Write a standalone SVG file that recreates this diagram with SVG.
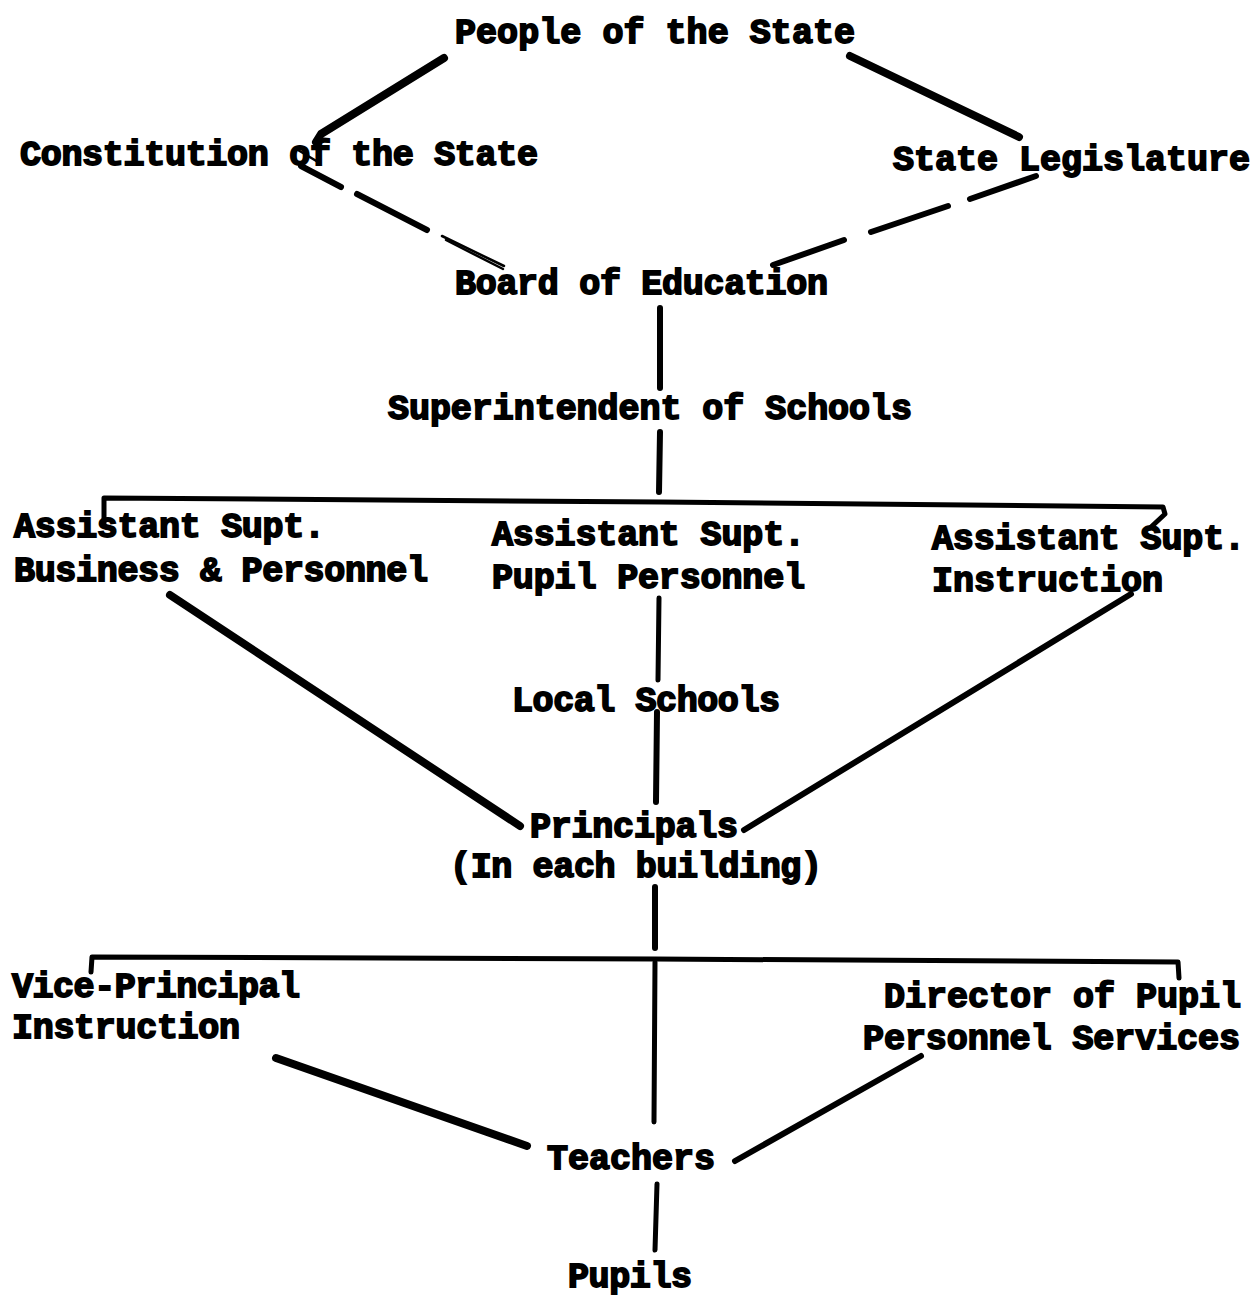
<svg xmlns="http://www.w3.org/2000/svg" width="1257" height="1298" viewBox="0 0 1257 1298">
<style>
.t{font-family:"Liberation Mono","Courier New",monospace;font-weight:bold;font-size:35px;fill:#000;stroke:#000;stroke-width:1.8px;lengthAdjust:spacing}
.c{stroke:#000;fill:none;stroke-linecap:round;stroke-linejoin:round}
.w8{stroke-width:8}
.w6{stroke-width:6}
.w5{stroke-width:5}
.w2{stroke-width:2.5}
</style>
<rect width="1257" height="1298" fill="#fff"/>
<g id="connectors">
<path class="c w8" d="M444 58 L321 134 L316 142"/>
<path class="c w2" d="M298 150 L318 162"/>
<path class="c w6" d="M301 166 L341 187"/>
<path class="c w6" d="M357 194 L427 230"/>
<path class="c w2" d="M442 236 L504 266"/>
<path class="c w2" d="M446 240 L503 269"/>
<path class="c w8" d="M850 56 L1019 137"/>
<path class="c w6" d="M1036 176 L970 199"/>
<path class="c w6" d="M948 206 L871 232"/>
<path class="c w6" d="M844 240 L773 265"/>
<path class="c w6" d="M660 308 L660 388"/>
<path class="c w6" d="M660 432 L659 492"/>
<path class="c w5" d="M104 523 L104 498 L660 502 L1163 507 L1165 514 L1150 528"/>
<path class="c w5" d="M659 598 L658 680"/>
<path class="c w6" d="M657 712 L656 802"/>
<path class="c w8" d="M170 595 L520 826"/>
<path class="c w6" d="M1131 594 L744 830"/>
<path class="c w6" d="M655 887 L655 948"/>
<path class="c w5" d="M91 972 L92 957 L655 959 L1178 962 L1179 978"/>
<path class="c w5" d="M655 962 L654 1122"/>
<path class="c w8" d="M276 1058 L527 1146"/>
<path class="c w6" d="M921 1056 L735 1161"/>
<path class="c w5" d="M657 1184 L655 1250"/>
</g>
<g id="n-people"><text class="t" x="455" y="43" textLength="400">People of the State</text></g>
<g id="n-constitution"><text class="t" x="20" y="165" textLength="518">Constitution of the State</text></g>
<g id="n-legislature"><text class="t" x="893" y="170" textLength="357">State Legislature</text></g>
<g id="n-board"><text class="t" x="455" y="294" textLength="373">Board of Education</text></g>
<g id="n-superintendent"><text class="t" x="388" y="419" textLength="524">Superintendent of Schools</text></g>
<g id="n-asst-business"><text class="t" x="14" y="537" textLength="311">Assistant Supt.</text><text class="t" x="14" y="581" textLength="414">Business &amp; Personnel</text></g>
<g id="n-asst-pupil"><text class="t" x="492" y="545" textLength="313">Assistant Supt.</text><text class="t" x="492" y="588" textLength="313">Pupil Personnel</text></g>
<g id="n-asst-instruction"><text class="t" x="932" y="549" textLength="313">Assistant Supt.</text><text class="t" x="932" y="591" textLength="231">Instruction</text></g>
<g id="n-local"><text class="t" x="512" y="711" textLength="268">Local Schools</text></g>
<g id="n-principals"><text class="t" x="530" y="837" textLength="208">Principals</text><text class="t" x="450" y="877" textLength="372">(In each building)</text></g>
<g id="n-vice"><text class="t" x="12" y="997" textLength="288">Vice-Principal</text><text class="t" x="12" y="1038" textLength="228">Instruction</text></g>
<g id="n-director"><text class="t" x="884" y="1007" textLength="357">Director of Pupil</text><text class="t" x="863" y="1049" textLength="377">Personnel Services</text></g>
<g id="n-teachers"><text class="t" x="547" y="1169" textLength="168">Teachers</text></g>
<g id="n-pupils"><text class="t" x="568" y="1287" textLength="124">Pupils</text></g>
</svg>
